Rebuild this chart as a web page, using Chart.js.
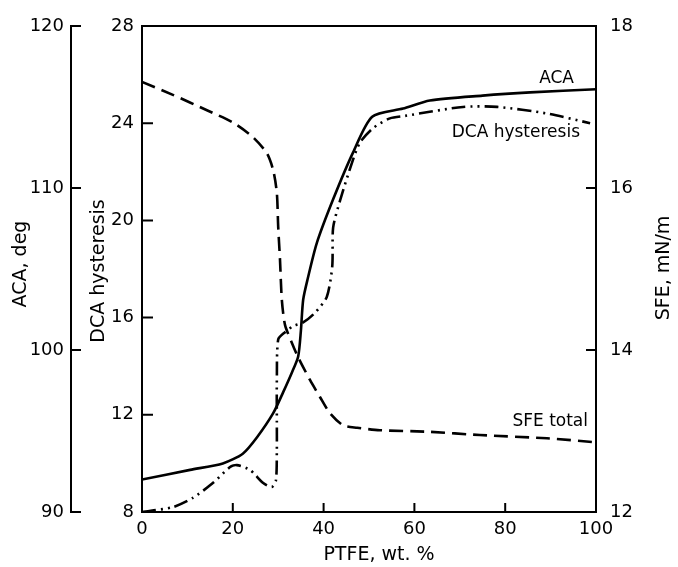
<!DOCTYPE html>
<html>
<head>
<meta charset="utf-8">
<script src="https://cdn.jsdelivr.net/npm/chart.js@4.4.1/dist/chart.umd.min.js"></script>
<style>
  html, body { margin: 0; padding: 0; background: #fff; }
  canvas { display: block; }
</style>
</head>
<body>
<canvas id="ptfe-chart" width="678" height="567"></canvas>
<script>
// values (x = PTFE wt.%)
var acaX = [0, 10.6, 17.8, 22.2, 25.3, 28.9, 31.1, 33.0, 34.4, 35.0, 35.5, 36.5, 38.5, 42.1, 46.5, 50.7, 57.5, 63.4, 75, 85.5, 100];
var acaY = [92.0, 92.6, 93.0, 93.6, 94.6, 96.1, 97.4, 98.6, 99.6, 101.2, 103.1, 104.4, 106.6, 109.3, 112.2, 114.4, 114.9, 115.4, 115.7, 115.9, 116.1];

var dcaX = [0, 6.8, 11.2, 15.6, 19.4, 20.9, 23.8, 26.7, 28.6, 29.5, 29.7, 29.7, 29.7, 30.0, 31.5, 33.3, 35.5, 38.1, 40.7, 41.9, 42.1, 43.6, 46.3, 48.0, 50.9, 54.6, 57.9, 70.7, 78.2, 89.2, 98.7];
var dcaY = [8.0, 8.2, 8.58, 9.19, 9.85, 9.93, 9.73, 9.19, 9.03, 9.3, 10.55, 11.7, 13.4, 15.1, 15.4, 15.65, 15.8, 16.2, 16.85, 18.1, 19.7, 20.8, 22.4, 23.2, 23.8, 24.2, 24.3, 24.67, 24.67, 24.4, 24.0];

var sfeX = [0, 6.8, 14.3, 20.0, 24.4, 27.5, 28.9, 29.7, 30.0, 30.4, 30.8, 31.5, 33.0, 34.4, 37.0, 39.2, 41.4, 44.3, 47.4, 52.4, 63.4, 74.4, 89.2, 100];
var sfeY = [17.31, 17.15, 16.96, 16.81, 16.63, 16.43, 16.22, 15.94, 15.52, 15.11, 14.62, 14.31, 14.09, 13.91, 13.63, 13.42, 13.22, 13.07, 13.04, 13.01, 12.99, 12.95, 12.91, 12.86];

var xTicks = [0, 20, 40, 60, 80, 100];

var FONT = "'DejaVu Sans', 'Liberation Sans', sans-serif";

function toPoints(xs, ys) {
  var pts = [];
  for (var i = 0; i < xs.length; i += 1) {
    pts.push({x: xs[i], y: ys[i]});
  }
  return pts;
}

// inward tick marks, frame top, rotated axis titles and curve labels
var decorations = {
  id: 'decorations',
  afterDraw: function (chart) {
    var ctx = chart.ctx;
    var area = chart.chartArea;
    var s = chart.scales;
    ctx.save();
    ctx.strokeStyle = '#000';
    ctx.lineWidth = 2;
    ctx.beginPath();
    ctx.moveTo(area.left - 1, area.top);
    ctx.lineTo(area.right + 1, area.top);

    s.yACA.ticks.forEach(function (t) {
      var y = s.yACA.getPixelForValue(t.value);
      ctx.moveTo(s.yACA.right, y);
      ctx.lineTo(s.yACA.right + 10, y);
    });
    s.yDCA.ticks.forEach(function (t) {
      if (t.value === 8 || t.value === 28) return;
      var y = s.yDCA.getPixelForValue(t.value);
      ctx.moveTo(area.left, y);
      ctx.lineTo(area.left + 11, y);
    });
    s.ySFE.ticks.forEach(function (t) {
      if (t.value === 12 || t.value === 18) return;
      var y = s.ySFE.getPixelForValue(t.value);
      ctx.moveTo(area.right, y);
      ctx.lineTo(area.right - 10, y);
    });
    xTicks.forEach(function (v) {
      if (v === 0 || v === 100) return;
      var x = s.x.getPixelForValue(v);
      ctx.moveTo(x, area.bottom);
      ctx.lineTo(x, area.bottom - 9);
    });
    ctx.stroke();

    ctx.fillStyle = '#000';
    ctx.textAlign = 'center';
    ctx.textBaseline = 'middle';
    ctx.font = '19px ' + FONT;
    var titles = [['ACA, deg', 21, 264], ['DCA hysteresis', 99, 271], ['SFE, mN/m', 664, 268]];
    titles.forEach(function (tt) {
      ctx.save();
      ctx.translate(tt[1], tt[2]);
      ctx.rotate(-Math.PI / 2);
      ctx.fillText(tt[0], 0, 0);
      ctx.restore();
    });
    ctx.fillText('PTFE, wt. %', 379, 555);

    ctx.font = '17px ' + FONT;
    ctx.textAlign = 'right';
    ctx.fillText('ACA', 574, 79);
    ctx.fillText('DCA hysteresis', 580, 133);
    ctx.fillText('SFE total', 588, 422);
    ctx.restore();
  }
};

var tickFont = {family: FONT, size: 18};

new Chart(document.getElementById('ptfe-chart'), {
  type: 'line',
  data: {
    datasets: [
      {
        label: 'ACA',
        data: toPoints(acaX, acaY),
        yAxisID: 'yACA',
        borderColor: '#000',
        borderWidth: 2.6
      },
      {
        label: 'DCA hysteresis',
        data: toPoints(dcaX, dcaY),
        yAxisID: 'yDCA',
        borderColor: '#000',
        borderWidth: 2.6,
        borderDash: [14, 5, 2, 5, 2, 5]
      },
      {
        label: 'SFE total',
        data: toPoints(sfeX, sfeY),
        yAxisID: 'ySFE',
        borderColor: '#000',
        borderWidth: 2.6,
        borderDash: [14, 7]
      }
    ]
  },
  options: {
    responsive: false,
    animation: false,
    devicePixelRatio: 1,
    layout: {padding: {top: 26, left: 0, right: 0, bottom: 0}},
    elements: {
      point: {radius: 0},
      line: {tension: 0.25, fill: false}
    },
    plugins: {
      legend: {display: false},
      tooltip: {enabled: false}
    },
    scales: {
      x: {
        type: 'linear',
        min: 0,
        max: 100,
        grid: {display: false, drawTicks: false},
        border: {display: true, color: '#000', width: 2},
        ticks: {stepSize: 20, padding: 7, color: '#000', font: tickFont},
        afterFit: function (scale) { scale.height = 55; }
      },
      yACA: {
        position: 'left',
        weight: 2,
        min: 90,
        max: 120,
        grid: {display: false, drawTicks: false},
        border: {display: true, color: '#000', width: 2},
        ticks: {stepSize: 10, padding: 7, color: '#000', font: tickFont},
        afterFit: function (scale) { scale.width = 71; }
      },
      yDCA: {
        position: 'left',
        weight: 1,
        min: 8,
        max: 28,
        grid: {display: false, drawTicks: false},
        border: {display: true, color: '#000', width: 2},
        ticks: {stepSize: 4, padding: 8, color: '#000', font: tickFont},
        afterFit: function (scale) { scale.width = 71; }
      },
      ySFE: {
        position: 'right',
        min: 12,
        max: 18,
        grid: {display: false, drawTicks: false},
        border: {display: true, color: '#000', width: 2},
        ticks: {stepSize: 2, padding: 14, color: '#000', font: tickFont},
        afterFit: function (scale) { scale.width = 82; }
      }
    }
  },
  plugins: [decorations]
});
</script>
</body>
</html>
